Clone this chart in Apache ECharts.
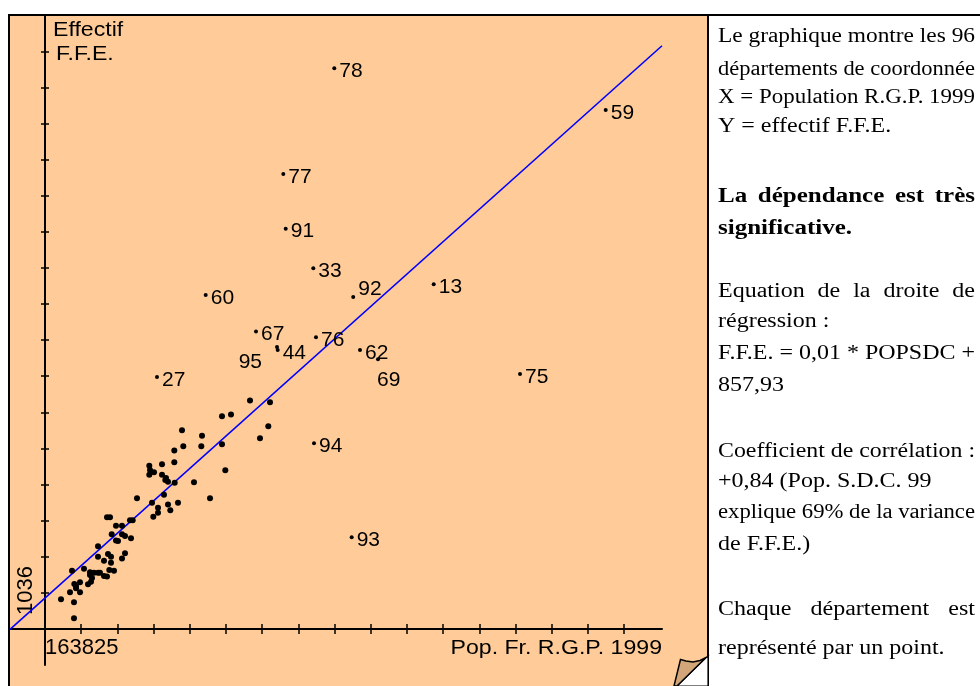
<!DOCTYPE html>
<html>
<head>
<meta charset="utf-8">
<script src="https://cdn.jsdelivr.net/npm/echarts@6/dist/echarts.min.js"></script>
<style>html,body{margin:0;padding:0;background:#fff}#c{width:980px;height:686px}</style>
</head>
<body>
<div id="c"></div>
<script>
// ---- data ----
const xOrigin = 163825;
const yOrigin = 1036;
const xAxisRange = [15880, 2771884];
const yAxisRange = [-664, 30029];
const xTickValues = [316825, 469825, 622825, 775825, 928825, 1081825, 1234825, 1387825, 1540825, 1693825, 1846825, 1999825, 2152825, 2305825, 2458825, 2611825];
const yTickValues = [2741, 4446, 6151, 7856, 9561, 11266, 12971, 14676, 16381, 18086, 19791, 21496, 23201, 24906, 26611, 28316];
const xAxisTitle = 'Pop. Fr. R.G.P. 1999';
const yAxisTitle = ['Effectif', 'F.F.E.'];

const deptNames = ['78','59','77','91','33','92','13','60','67','44','95','76','62','69','27','75','94','93'];
const deptPop   = [1386700, 2533900, 1171100, 1181300, 1297900, 1466600, 1806900, 843100, 1055700, 1147400, 1144500, 1309300, 1495300, 1571400, 637200, 2171700, 1300900, 1460200];
const deptFfe   = [27510, 25540, 22520, 19940, 18070, 16710, 17310, 16810, 15080, 14210, 14350, 14810, 14210, 13770, 12940, 13080, 9810, 5370];

const otherPop = [231500, 286400, 286400, 278000, 269500, 311800, 287700, 294900, 311800, 328700, 345600, 354000, 358300, 354000, 370900, 387900, 396300, 387900, 387900, 413200, 425900, 435600, 442800, 442800, 430100, 455500, 438600, 425900, 445800, 463900, 463900, 489300, 489300, 502000, 489300, 502000, 527300, 523100, 534500, 552700, 604700, 604700, 624600, 616100, 621600, 641500, 641500, 658400, 658400, 666800, 672300, 683700, 683700, 693500, 710400, 710400, 712100, 726000, 742900, 748400, 793600, 827500, 824500, 861300, 912000, 912000, 926000, 950000, 1030400, 1072600, 1107700, 1114900, 294900, 362500, 472400, 607700, 413200, 675300];
const otherFfe = [2440, 2300, 1540, 3790, 2770, 2770, 3160, 2960, 3240, 3880, 3150, 3590, 3270, 3710, 3690, 3690, 3690, 4940, 4450, 4260, 3510, 3820, 4170, 4450, 4580, 3790, 6310, 6310, 5510, 5210, 5910, 5910, 5510, 5430, 4370, 4610, 5320, 6170, 6170, 7210, 8750, 8320, 8440, 7000, 6340, 6760, 6530, 8810, 8320, 7380, 8070, 7990, 6910, 6640, 9460, 8910, 7940, 7000, 10420, 9660, 7960, 10160, 9660, 7210, 11080, 9760, 8530, 11170, 11820, 10040, 10610, 11740, 3070, 3440, 5190, 8540, 3540, 8170];

const regressionSlope = 0.01;
const regressionIntercept = 857.93;

const panelLines = [
  'Le graphique montre les 96',
  'départements de coordonnée',
  'X = Population R.G.P. 1999',
  'Y = effectif F.F.E.',
  'La dépendance est très',
  'significative.',
  'Equation de la droite de',
  'régression :',
  'F.F.E. = 0,01 * POPSDC +',
  '857,93',
  'Coefficient de corrélation :',
  '+0,84 (Pop. S.D.C. 99',
  'explique 69% de la variance',
  'de F.F.E.)',
  'Chaque département est',
  'représenté par un point.'
];

// ---- styles / layout ----
const SANS = '"Liberation Sans", Arial, sans-serif';
const SERIF = '"Liberation Serif", "Times New Roman", serif';
const panelLeft = 718, panelRight = 975;
const panelFont = 20;
const panelY = [37, 70, 98, 127, 197, 229, 292, 322, 354, 386, 452, 482, 513, 545, 610, 649];
const panelBold = [false, false, false, false, true, true, false, false, false, false, false, false, false, false, false, false];
const panelJustify = [false, false, false, false, true, false, true, false, false, false, false, false, false, false, true, false];
const labelTweaks = {
  '92': {offset: [0, -8]},
  '95': {position: 'left', offset: [-10, 15]},
  '69': {offset: [-6, 21]}
};

const measureCtx = document.createElement('canvas').getContext('2d');
function measure(text, bold) {
  measureCtx.font = (bold ? 'bold ' : '') + panelFont + 'px ' + SERIF;
  return measureCtx.measureText(text).width;
}

const chart = echarts.init(document.getElementById('c'), null, {renderer: 'canvas'});

const graphics = [];
graphics.push({type: 'rect', z: -10, silent: true, shape: {x: 9, y: 15, width: 699, height: 671}, style: {fill: '#FFCC99'}});
graphics.push({type: 'line', z: 50, silent: true, shape: {x1: 8, y1: 15, x2: 980, y2: 15}, style: {stroke: '#000', lineWidth: 2}});
graphics.push({type: 'line', z: 50, silent: true, shape: {x1: 9, y1: 15, x2: 9, y2: 686}, style: {stroke: '#000', lineWidth: 2}});
graphics.push({type: 'line', z: 50, silent: true, shape: {x1: 708, y1: 15, x2: 708, y2: 686}, style: {stroke: '#000', lineWidth: 2}});
// page fold
graphics.push({type: 'polygon', z: 60, silent: true, shape: {points: [[706, 657.5], [708, 657], [708, 686], [677, 686]]}, style: {fill: '#fff', stroke: '#000', lineWidth: 1.2}});
graphics.push({type: 'polygon', z: 61, silent: true, shape: {points: [[680.5, 659.5], [686, 661], [693, 662], [700, 660.5], [706, 657.5], [677, 686], [674, 686]]}, style: {fill: '#D2A679', stroke: '#000', lineWidth: 1.5}});

function txt(text, x, y, opts) {
  return Object.assign({
    type: 'text', z: 50, silent: true, x: x, y: y,
    style: Object.assign({text: text, fill: '#000', align: 'left', verticalAlign: 'middle', textAlign: 'left', textVerticalAlign: 'middle'}, opts.style || {})
  }, opts.el || {});
}
graphics.push(txt(yAxisTitle[0], 53, 30, {el: {scaleX: 1.1}, style: {fontSize: 21, fontFamily: SANS}}));
graphics.push(txt(yAxisTitle[1], 56, 54.5, {el: {scaleX: 1.1}, style: {fontSize: 21, fontFamily: SANS}}));
graphics.push(txt(xAxisTitle, 662, 648, {el: {scaleX: 1.1}, style: {fontSize: 21, fontFamily: SANS, align: 'right', textAlign: 'right'}}));

const avail = panelRight - panelLeft;
panelLines.forEach(function (line, i) {
  const bold = panelBold[i];
  const baseScale = bold ? 1.25 : 1.2;
  const st = {fontSize: panelFont, fontFamily: SERIF, fontWeight: bold ? 'bold' : 'normal'};
  if (panelJustify[i]) {
    const words = line.split(' ');
    let widths = words.map(function (w) { return measure(w, bold); });
    let total = widths.reduce(function (a, b) { return a + b; }, 0);
    const minGap = measure(' ', bold) * baseScale;
    const s = Math.min(baseScale, (avail - minGap * (words.length - 1)) / total);
    widths = widths.map(function (w) { return w * s; });
    total = total * s;
    const gap = (avail - total) / (words.length - 1);
    let x = panelLeft;
    words.forEach(function (w, j) {
      graphics.push(txt(w, x, panelY[i], {el: {scaleX: s}, style: st}));
      x += widths[j] + gap;
    });
  } else {
    const s = Math.min(baseScale, avail / measure(line, bold));
    graphics.push(txt(line, panelLeft, panelY[i], {el: {scaleX: s}, style: st}));
  }
});

const deptData = deptNames.map(function (n, i) {
  const item = {name: n, value: [deptPop[i], deptFfe[i]]};
  if (labelTweaks[n]) item.label = labelTweaks[n];
  return item;
});
const otherData = otherPop.map(function (p, i) { return [p, otherFfe[i]]; });
const regData = [
  [xAxisRange[0], regressionSlope * xAxisRange[0] + regressionIntercept],
  [xAxisRange[1], regressionSlope * xAxisRange[1] + regressionIntercept]
];

const baseX = {type: 'value', min: xAxisRange[0], max: xAxisRange[1], position: 'bottom', offset: -36, splitLine: {show: false}};
const baseY = {type: 'value', min: yAxisRange[0], max: yAxisRange[1], position: 'left', offset: -35, splitLine: {show: false}};

const option = {
  animation: false,
  backgroundColor: '#ffffff',
  grid: {left: 10, right: 318, top: 15, bottom: 21, containLabel: false},
  xAxis: [
    Object.assign({}, baseX, {
      axisLine: {show: true, onZero: false, lineStyle: {color: '#000', width: 2}},
      axisTick: {show: true, length: 5, customValues: xTickValues, lineStyle: {color: '#000', width: 1.5}},
      axisLabel: {show: true, customValues: [xOrigin], formatter: function () { return String(xOrigin); }, align: 'left', margin: 8, fontSize: 22, fontFamily: SANS, color: '#000'}
    }),
    Object.assign({}, baseX, {
      axisLine: {show: false, onZero: false},
      axisTick: {show: true, inside: true, length: 5, customValues: xTickValues, lineStyle: {color: '#000', width: 1.5}},
      axisLabel: {show: false}
    })
  ],
  yAxis: [
    Object.assign({}, baseY, {
      axisLine: {show: true, onZero: false, lineStyle: {color: '#000', width: 2}},
      axisTick: {show: true, length: 4, customValues: yTickValues, lineStyle: {color: '#000', width: 1.5}},
      axisLabel: {show: true, customValues: [yOrigin], formatter: function () { return String(yOrigin); }, rotate: 90, align: 'left', verticalAlign: 'bottom', padding: [0, 0, 0, 14], margin: 8, fontSize: 22, fontFamily: SANS, color: '#000'}
    }),
    Object.assign({}, baseY, {
      axisLine: {show: false, onZero: false},
      axisTick: {show: true, inside: true, length: 4, customValues: yTickValues, lineStyle: {color: '#000', width: 1.5}},
      axisLabel: {show: false}
    })
  ],
  series: [
    {
      type: 'line', xAxisIndex: 0, yAxisIndex: 0, data: regData, symbol: 'none', silent: true, z: 3,
      lineStyle: {color: '#0000FF', width: 1.6}
    },
    {
      type: 'scatter', xAxisIndex: 0, yAxisIndex: 0, data: otherData, symbolSize: 6, z: 4,
      itemStyle: {color: '#000', opacity: 1}
    },
    {
      type: 'scatter', xAxisIndex: 0, yAxisIndex: 0, data: deptData, symbolSize: 4, z: 4,
      itemStyle: {color: '#000', opacity: 1},
      label: {show: true, position: 'right', distance: 3, offset: [0, 3], formatter: '{b}', fontSize: 21, fontFamily: SANS, color: '#000'}
    }
  ],
  graphic: graphics
};
chart.setOption(option);
</script>
</body>
</html>
